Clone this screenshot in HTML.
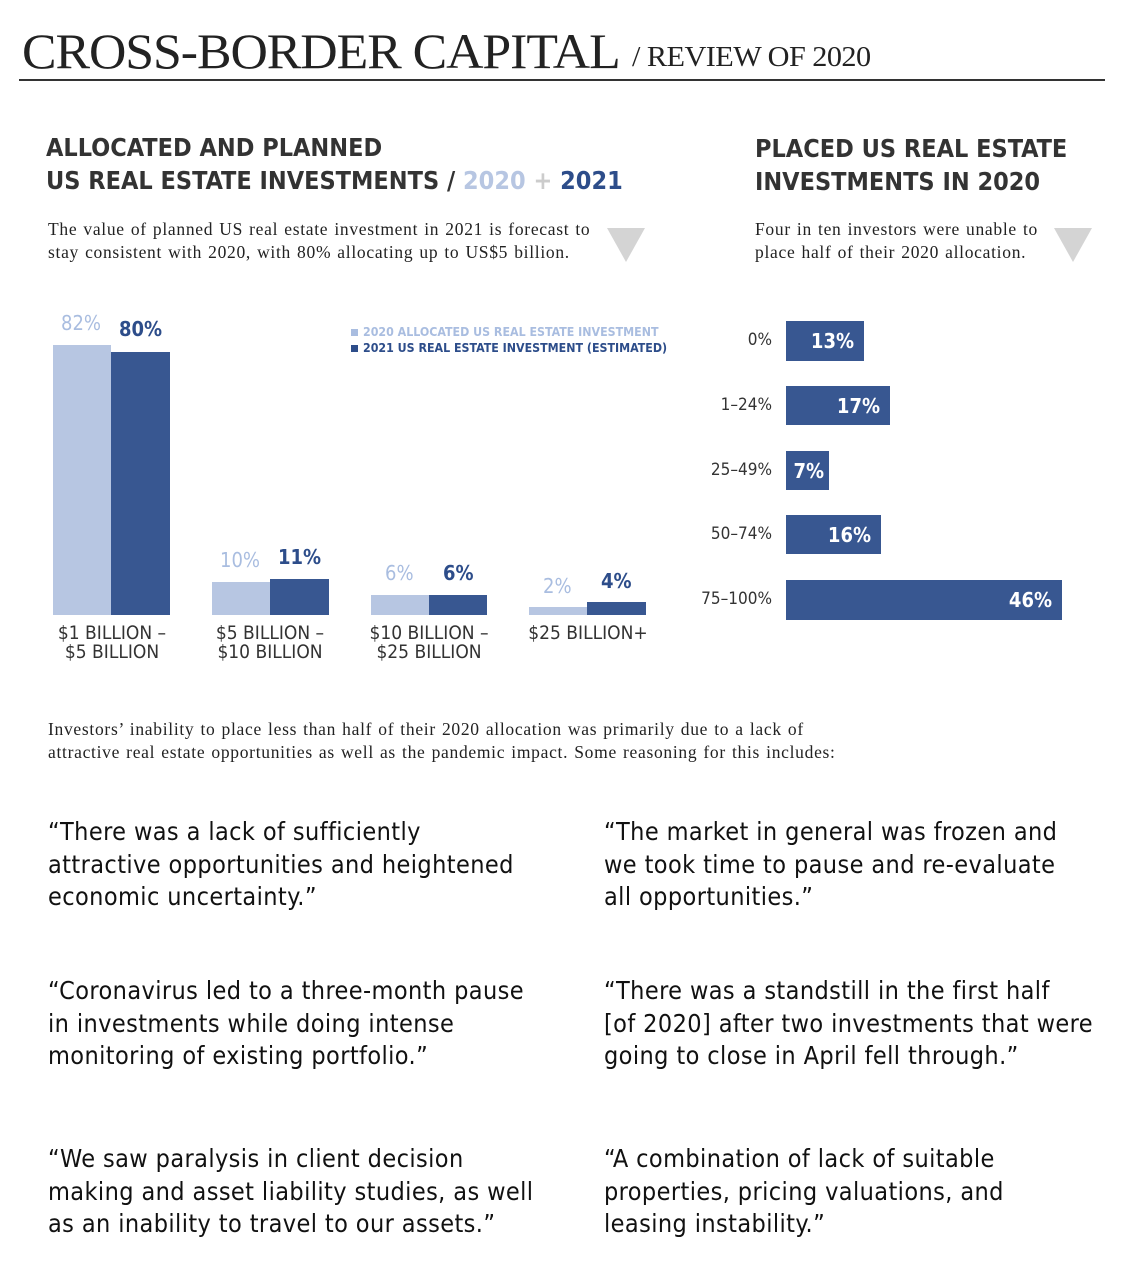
<!DOCTYPE html>
<html><head><meta charset="utf-8"><style>
body{margin:0;width:1128px;height:1278px;background:#fff;position:relative;overflow:hidden;font-family:"DejaVu Sans Condensed","Liberation Sans",sans-serif;color:#222}
.a{position:absolute;white-space:nowrap}
.serif{font-family:"Liberation Serif",serif}
.p{font-family:"Liberation Serif",serif;font-size:17.5px;line-height:23px;letter-spacing:0.7px;word-spacing:1px}
.h{font-family:"DejaVu Sans Condensed","Liberation Sans",sans-serif;font-weight:bold;font-size:25px;color:#333;line-height:33px}
.b{position:absolute}
.lt{background:#b7c6e2}.dk{background:#385791}
.pl{color:#a9bde0;font-size:20px}.pd{color:#2d4d8a;font-size:20px;font-weight:bold}
.cat{font-size:19px;color:#333;text-align:center;line-height:19px;width:160px}
.rl{font-size:17px;color:#333;text-align:right;width:100px}
.rv{color:#fff;font-weight:bold;font-size:20px;text-align:right;line-height:40px;padding-right:10px;box-sizing:border-box}
.q{font-size:25px;line-height:32.5px;color:#111;letter-spacing:0.4px}
.tri{width:0;height:0;border-left:19px solid transparent;border-right:19px solid transparent;border-top:34px solid #d4d4d4}
</style></head><body>
<div class="a serif" style="left:22px;top:22px;font-size:50px;letter-spacing:-1px;color:#222;transform:scaleX(1.035);transform-origin:left">CROSS-BORDER CAPITAL</div>
<div class="a serif" style="left:632px;top:42px;font-size:28px;letter-spacing:-0.5px;color:#222;transform:scaleX(1.08);transform-origin:left">/ REVIEW OF 2020</div>
<div class="b" style="left:19px;top:79px;width:1086px;height:1.5px;background:#333"></div>

<div class="a h" style="left:46px;top:131px">ALLOCATED AND PLANNED<br>US REAL ESTATE INVESTMENTS / <span style="color:#b7c6e2">2020</span> <span style="color:#ccc">+</span> <span style="color:#2d4d8a">2021</span></div>
<div class="a h" style="left:755px;top:132px">PLACED US REAL ESTATE<br>INVESTMENTS IN 2020</div>
<div class="a p" style="left:48px;top:218px">The value of planned US real estate investment in 2021 is forecast to<br>stay consistent with 2020, with 80% allocating up to US$5 billion.</div>
<div class="a tri" style="left:607px;top:228px"></div>
<div class="a p" style="left:755px;top:218px">Four in ten investors were unable to<br>place half of their 2020 allocation.</div>
<div class="a tri" style="left:1054px;top:228px"></div>

<div class="b lt" style="left:53px;top:345px;width:58px;height:270px"></div>
<div class="b dk" style="left:111px;top:352px;width:59px;height:263px"></div>
<div class="b lt" style="left:212px;top:582px;width:58px;height:33px"></div>
<div class="b dk" style="left:270px;top:579px;width:59px;height:36px"></div>
<div class="b lt" style="left:371px;top:595px;width:58px;height:20px"></div>
<div class="b dk" style="left:429px;top:595px;width:58px;height:20px"></div>
<div class="b lt" style="left:529px;top:607px;width:58px;height:8px"></div>
<div class="b dk" style="left:587px;top:602px;width:59px;height:13px"></div>
<div class="a pl" style="left:61px;top:311px">82%</div><div class="a pd" style="left:119px;top:317px">80%</div>
<div class="a pl" style="left:220px;top:548px">10%</div><div class="a pd" style="left:278px;top:545px">11%</div>
<div class="a pl" style="left:385px;top:561px">6%</div><div class="a pd" style="left:443px;top:561px">6%</div>
<div class="a pl" style="left:543px;top:574px">2%</div><div class="a pd" style="left:601px;top:569px">4%</div>
<div class="a cat" style="left:32px;top:624px">$1 BILLION –<br>$5 BILLION</div>
<div class="a cat" style="left:190px;top:624px">$5 BILLION –<br>$10 BILLION</div>
<div class="a cat" style="left:349px;top:624px">$10 BILLION –<br>$25 BILLION</div>
<div class="a cat" style="left:508px;top:624px">$25 BILLION+</div>
<div class="a" style="left:351px;top:324px;font-size:12.3px;font-weight:bold;color:#a9bde0;line-height:16px"><span style="display:inline-block;width:7px;height:7px;background:#a9bde0;margin-right:5px"></span>2020 ALLOCATED US REAL ESTATE INVESTMENT<br><span style="color:#2d4d8a"><span style="display:inline-block;width:7px;height:7px;background:#2d4d8a;margin-right:5px"></span>2021 US REAL ESTATE INVESTMENT (ESTIMATED)</span></div>

<div class="a rl" style="left:672px;top:330px">0%</div>
<div class="a rl" style="left:672px;top:395px">1–24%</div>
<div class="a rl" style="left:672px;top:460px">25–49%</div>
<div class="a rl" style="left:672px;top:524px">50–74%</div>
<div class="a rl" style="left:672px;top:589px">75–100%</div>
<div class="b dk rv" style="left:786px;top:321px;width:78px;height:40px">13%</div>
<div class="b dk rv" style="left:786px;top:386px;width:104px;height:39px">17%</div>
<div class="b dk rv" style="left:786px;top:451px;width:43px;height:39px;padding-right:5px">7%</div>
<div class="b dk rv" style="left:786px;top:515px;width:95px;height:39px">16%</div>
<div class="b dk rv" style="left:786px;top:580px;width:276px;height:40px">46%</div>

<div class="a p" style="left:48px;top:718px">Investors’ inability to place less than half of their 2020 allocation was primarily due to a lack of<br>attractive real estate opportunities as well as the pandemic impact. Some reasoning for this includes:</div>

<div class="a q" style="left:48px;top:816px">“There was a lack of sufficiently<br>attractive opportunities and heightened<br>economic uncertainty.”</div>
<div class="a q" style="left:604px;top:816px">“The market in general was frozen and<br>we took time to pause and re-evaluate<br>all opportunities.”</div>
<div class="a q" style="left:48px;top:975px">“Coronavirus led to a three-month pause<br>in investments while doing intense<br>monitoring of existing portfolio.”</div>
<div class="a q" style="left:604px;top:975px">“There was a standstill in the first half<br>[of 2020] after two investments that were<br>going to close in April fell through.”</div>
<div class="a q" style="left:48px;top:1143px">“We saw paralysis in client decision<br>making and asset liability studies, as well<br>as an inability to travel to our assets.”</div>
<div class="a q" style="left:604px;top:1143px">“A combination of lack of suitable<br>properties, pricing valuations, and<br>leasing instability.”</div>
</body></html>
